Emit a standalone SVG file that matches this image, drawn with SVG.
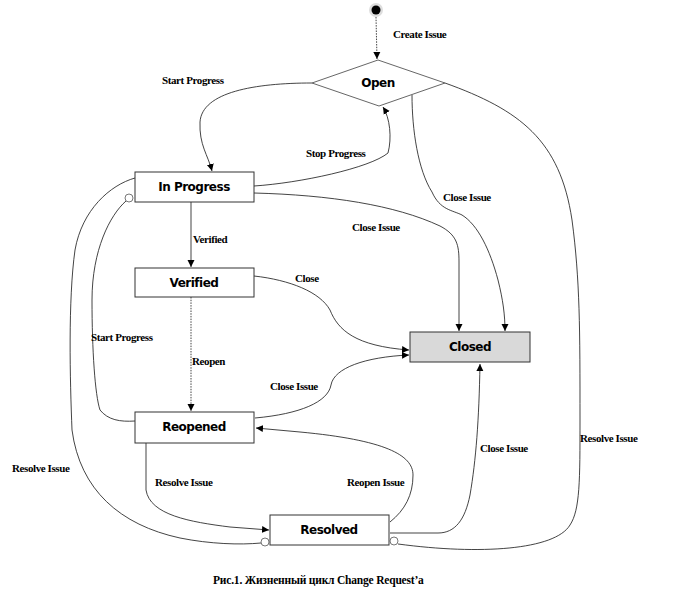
<svg xmlns="http://www.w3.org/2000/svg" width="675" height="597" viewBox="0 0 675 597">
<style>
.box{fill:#fff;stroke:#333;stroke-width:1}
.closed{fill:#d9d9d9;stroke:#333;stroke-width:1}
.nl{font-family:"DejaVu Sans","Liberation Sans",sans-serif;font-weight:bold;font-size:12px;text-anchor:middle;fill:#000;letter-spacing:-0.5px}
.el{font-family:"Liberation Serif",serif;font-weight:bold;font-size:11px;fill:#000;letter-spacing:-0.4px}
.c{fill:none;stroke:#222;stroke-width:0.85}
.d{stroke-dasharray:1.5 1.2}
.oc{fill:#fff;stroke:#555;stroke-width:0.8}
</style>
<defs>
<marker id="ah" markerWidth="8" markerHeight="8" refX="7" refY="4" orient="auto" markerUnits="userSpaceOnUse">
<path d="M0,0.5 L7,4 L0,7.5 Z" fill="#000"/>
</marker>
</defs>
<rect width="675" height="597" fill="#fff"/>
<g id="connectors">
<path class="c d" d="M376,17 L377,59" marker-end="url(#ah)"/>
<path class="c" d="M312,83 C255,83 202,92 200,122 C199,145 208,155 212,171" marker-end="url(#ah)"/>
<path class="c" d="M254,186 C300,183 370,168 388,153 C392,138 390,118 383,107" marker-end="url(#ah)"/>
<path class="c" d="M254,193 C330,195 395,205 440,226 C457,235 459,245 459,262 L459,331" marker-end="url(#ah)"/>
<path class="c" d="M412,95 C412,130 418,170 432,192 C440,210 452,210 462,215 C478,225 490,250 498,280 C503,300 505,315 505,331" marker-end="url(#ah)"/>
<path class="c" d="M445,83 C520,110 560,140 572,220 C580,280 580,330 580,420 C580,480 580,510 570,525 C555,550 480,555 398,544"/>
<path class="c" d="M191,202 L191,267" marker-end="url(#ah)"/>
<path class="c" d="M254,276 C290,280 320,292 330,310 C338,330 355,346 409,350" marker-end="url(#ah)"/>
<path class="c d" d="M191,297 L191,411" marker-end="url(#ah)"/>
<path class="c" d="M255,418 C300,414 328,402 331,385 C334,368 365,357 409,355" marker-end="url(#ah)"/>
<path class="c" d="M135,421 C120,422 108,420 100,410 C95,395 92,350 92,300 C92,250 110,215 126,201"/>
<path class="c" d="M135,178 C110,185 82,210 75,250 C68,300 70,380 72,430 C80,490 120,525 180,538 C210,544 240,545 261,543"/>
<path class="c" d="M146,443 L146,490 C150,515 190,522 230,527 L269,530" marker-end="url(#ah)"/>
<path class="c" d="M390,522 C405,510 413,495 413,475 C413,455 385,440 300,432 L256,428" marker-end="url(#ah)"/>
<path class="c" d="M390,533 L438,533 C455,533 465,520 470,495 C476,460 479,420 480,364" marker-end="url(#ah)"/>
<circle class="oc" cx="129" cy="198" r="4"/>
<circle class="oc" cx="265" cy="542" r="4"/>
<circle class="oc" cx="394" cy="541" r="4"/>
</g>
<g id="start">
<circle cx="376" cy="10" r="7" fill="#ddd"/>
<circle cx="376" cy="10" r="4.5" fill="#000"/>
</g>
<g id="open">
<polygon points="378,60 445,83 379,106 312,83" fill="#fff" stroke="#555" stroke-width="0.9"/>
<text class="nl" x="378" y="87">Open</text>
</g>
<g id="inprogress">
<rect class="box" x="135" y="172" width="119" height="30"/>
<text class="nl" x="194" y="191">In Progress</text>
</g>
<g id="verified">
<rect class="box" x="135" y="268" width="119" height="29"/>
<text class="nl" x="194" y="287">Verified</text>
</g>
<g id="closed">
<rect class="closed" x="410" y="332" width="120" height="30"/>
<text class="nl" x="470" y="351">Closed</text>
</g>
<g id="reopened">
<rect class="box" x="135" y="412" width="119" height="31"/>
<text class="nl" x="194" y="431">Reopened</text>
</g>
<g id="resolved">
<rect class="box" x="270" y="515" width="119" height="30"/>
<text class="nl" x="329" y="534">Resolved</text>
</g>
<g id="labels">
<text class="el" x="393" y="38">Create Issue</text>
<text class="el" x="162" y="84">Start Progress</text>
<text class="el" x="306" y="157">Stop Progress</text>
<text class="el" x="443" y="201">Close Issue</text>
<text class="el" x="352" y="231">Close Issue</text>
<text class="el" x="193" y="243">Verified</text>
<text class="el" x="295" y="282">Close</text>
<text class="el" x="91" y="341">Start Progress</text>
<text class="el" x="192" y="365">Reopen</text>
<text class="el" x="270" y="390">Close Issue</text>
<text class="el" x="580" y="442">Resolve Issue</text>
<text class="el" x="480" y="452">Close Issue</text>
<text class="el" x="12" y="472">Resolve Issue</text>
<text class="el" x="155" y="486">Resolve Issue</text>
<text class="el" x="347" y="486">Reopen Issue</text>
</g>
<text x="213" y="584" font-family="Liberation Serif,serif" font-weight="bold" font-size="11.5px" letter-spacing="-0.2">Рис.1. Жизненный цикл Change Request’a</text>
</svg>
